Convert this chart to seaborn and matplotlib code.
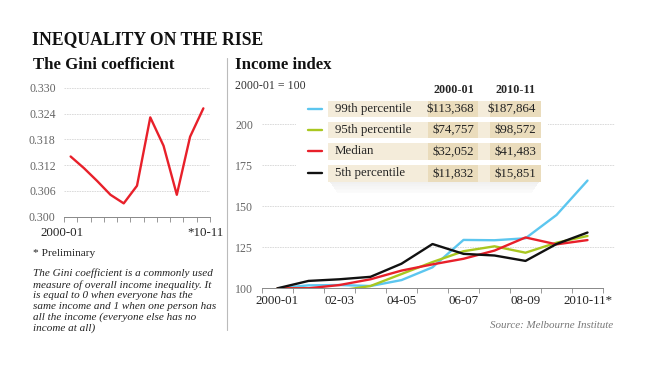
import numpy as np
import pandas as pd
import matplotlib
matplotlib.use("Agg")
import matplotlib.pyplot as plt
from matplotlib.patches import Rectangle
from matplotlib.lines import Line2D
import seaborn as sns

# --- data ---
years = ["2000-01", "01-02", "02-03", "03-04", "04-05", "05-06",
         "06-07", "07-08", "08-09", "09-10", "2010-11"]
gini = [0.314, 0.3113, 0.3083, 0.3051, 0.3031, 0.3072,
        0.3231, 0.3165, 0.3051, 0.3186, 0.3252]
gini_ticks = [0.300, 0.306, 0.312, 0.318, 0.324, 0.330]
gini_xlabels = ["2000-01", "*10-11"]

p99 = [100, 101.8, 102.0, 101.4, 105.0, 112.8, 129.5, 129.3, 130.5, 144.7, 165.7]
p95 = [100, 100.0, 98.6, 101.4, 108.7, 116.0, 122.6, 125.6, 121.7, 127.8, 131.9]
median = [100, 100.0, 102.0, 105.5, 110.8, 114.6, 118.0, 123.0, 131.0, 126.8, 129.4]
p5 = [100, 104.5, 105.5, 107.0, 115.0, 127.0, 121.0, 120.0, 116.7, 127.0, 134.0]
index_ticks = [100, 125, 150, 175, 200]
index_xlabels = ["2000-01", "02-03", "04-05", "06-07", "08-09", "2010-11*"]

series_names = ["99th percentile", "95th percentile", "Median", "5th percentile"]
income_0001 = ["$113,368", "$74,757", "$32,052", "$11,832"]
income_1011 = ["$187,864", "$98,572", "$41,483", "$15,851"]
colors = ["#5cc6ef", "#a9c720", "#e8202a", "#111111"]

W, H = 650, 366
sns.set_style("white")
plt.rcParams["font.family"] = ["Liberation Serif", "DejaVu Serif"]
fig = plt.figure(figsize=(6.5, 3.66), dpi=100)


def fx(x):
    return x / W


def fy(y):
    return 1 - y / H


grid_kw = dict(color="#d6d6d6", lw=0.6, linestyle=(0, (2, 1)))
n = len(years)

# ---------- Gini panel ----------
ax1 = fig.add_axes([fx(64), fy(216.7), fx(146), (216.7 - 87.7) / H])
gdf = pd.DataFrame({"x": np.arange(n), "gini": gini})
sns.lineplot(data=gdf, x="x", y="gini", ax=ax1, color="#e8202a", lw=1.7)
ax1.set_xlim(-0.5, n - 0.5)
ax1.set_ylim(gini_ticks[0], gini_ticks[-1])
ax1.set_yticks(gini_ticks, [f"{v:.3f}" for v in gini_ticks])
for v in gini_ticks[1:]:
    ax1.axhline(v, zorder=0, **grid_kw)
ax1.set_xticks(np.arange(n + 1) - 0.5, [""] * (n + 1))
ax1.tick_params(axis="x", which="major", bottom=True, length=3.5, width=0.6,
                color="#888888", direction="out")
ax1.tick_params(axis="y", length=0, pad=6, labelsize=8.6, labelcolor="#666666")
for xpos, lab in zip([-0.65, 10.13], gini_xlabels):
    ax1.text(xpos, -0.13, lab, transform=ax1.get_xaxis_transform(), ha="center",
             va="center", fontsize=9.3, color="#222222", clip_on=False)
for s in ["top", "right", "left"]:
    ax1.spines[s].set_visible(False)
ax1.spines["bottom"].set_color("#888888")
ax1.spines["bottom"].set_linewidth(0.7)
ax1.set_xlabel("")
ax1.set_ylabel("")

# ---------- Income index panel ----------
ax2 = fig.add_axes([fx(262), fy(288.3), fx(615 - 262), (288.3 - 107.9) / H])
idf = pd.DataFrame({"x": np.tile(np.arange(n), 4),
                    "value": p99 + p95 + median + p5,
                    "series": np.repeat(series_names, n)})
sns.lineplot(data=idf, x="x", y="value", hue="series", hue_order=series_names,
             palette=colors, ax=ax2, lw=1.7, legend=False)
ax2.set_xlim(-0.5, n - 0.5 + 12 / 31)
ax2.set_ylim(100, 210)
ax2.set_yticks(index_ticks, [str(v) for v in index_ticks])
for v in index_ticks[1:]:
    ax2.axhline(v, zorder=0, **grid_kw)
ax2.set_xticks(np.arange(n + 1) - 0.5, [""] * (n + 1))
ax2.set_xticks(np.arange(0, n, 2), index_xlabels, minor=True)
ax2.tick_params(axis="x", which="major", bottom=True, length=3.5, width=0.6,
                color="#888888", direction="out")
ax2.tick_params(axis="x", which="minor", bottom=True, length=0, pad=4.5, labelsize=9.3,
                labelcolor="#222222")
ax2.tick_params(axis="y", length=0, pad=6.5, labelsize=8.6, labelcolor="#666666")
for s in ["top", "right", "left"]:
    ax2.spines[s].set_visible(False)
ax2.spines["bottom"].set_color("#888888")
ax2.spines["bottom"].set_linewidth(0.7)
ax2.spines["bottom"].set_bounds(-0.5, n - 0.5)
ax2.set_xlabel("")
ax2.set_ylabel("")


# ---------- table-style legend ----------
def rect(x0, y0, x1, y1, color, alpha=1.0, z=2):
    fig.patches.append(Rectangle((fx(x0), fy(y1)), fx(x1 - x0), (y1 - y0) / H,
                                 transform=fig.transFigure, facecolor=color,
                                 edgecolor="none", alpha=alpha, zorder=z))


rect(296, 92, 548, 196, "white", z=1.5)
for i in range(8):
    rect(330 + i, 181.7 + i * 1.4, 539 - i, 183.1 + i * 1.4, "#000000",
         alpha=0.06 - i * 0.0065, z=1.6)
row_tops = [100.7, 121.7, 143.0, 165.0]
row_h = 16.7
light, dark = "#f4ecda", "#eadcbc"
for top, name, a, b, c in zip(row_tops, series_names, income_0001, income_1011, colors):
    rect(328, top, 541, top + row_h, light)
    rect(428, top, 478, top + row_h, dark)
    rect(490, top, 541, top + row_h, dark)
    yc = fy(top + row_h / 2)
    fig.add_artist(Line2D([fx(308), fx(322)], [yc, yc], color=c, lw=1.7,
                          transform=fig.transFigure))
    fig.text(fx(335), yc, name, fontsize=9.3, va="center", ha="left", color="#222222")
    fig.text(fx(474), yc, a, fontsize=9.3, va="center", ha="right", color="#222222")
    fig.text(fx(536), yc, b, fontsize=9.3, va="center", ha="right", color="#222222")
fig.text(fx(474), fy(90), "2000-01", fontsize=8.7, fontweight="bold", ha="right", va="center")
fig.text(fx(536), fy(90), "2010-11", fontsize=8.7, fontweight="bold", ha="right", va="center")

# ---------- text ----------
fig.text(fx(32), fy(40), "INEQUALITY ON THE RISE", fontsize=12.7, fontweight="bold",
         ha="left", va="center", color="#111111")
fig.text(fx(33), fy(65), "The Gini coefficient", fontsize=12.1, fontweight="bold",
         ha="left", va="center", color="#111111")
fig.text(fx(235), fy(65), "Income index", fontsize=12.1, fontweight="bold",
         ha="left", va="center", color="#111111")
fig.text(fx(235), fy(86), "2000-01 = 100", fontsize=8.6, ha="left", va="center", color="#333333")
fig.text(fx(33), fy(254), "* Preliminary", fontsize=8.2, ha="left", va="center", color="#222222")
note = ("The Gini coefficient is a commonly used\n"
        "measure of overall income inequality. It\n"
        "is equal to 0 when everyone has the\n"
        "same income and 1 when one person has\n"
        "all the income (everyone else has no\n"
        "income at all)")
fig.text(fx(33), fy(268.5), note, fontsize=8.0, style="italic", ha="left", va="top",
         linespacing=1.22, color="#222222")
fig.text(fx(613), fy(325), "Source: Melbourne Institute", fontsize=7.9, style="italic",
         ha="right", va="center", color="#777777")
fig.add_artist(Line2D([fx(226.5), fx(226.5)], [fy(58), fy(330)], color="#bbbbbb", lw=0.8,
                      transform=fig.transFigure))

fig.savefig("out.png", dpi=100)
